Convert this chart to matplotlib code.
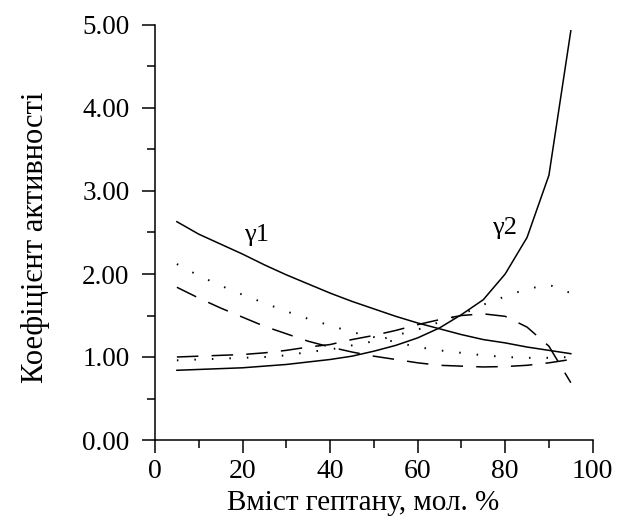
import matplotlib
matplotlib.use("Agg")
import matplotlib.pyplot as plt
from matplotlib.ticker import MultipleLocator, FormatStrFormatter

x = [5, 10, 15, 20, 25, 30, 35, 40, 45, 50, 55, 60, 65, 70, 75, 80, 85, 90, 95]

# model 1 (solid)
g1_solid = [2.63, 2.48, 2.36, 2.24, 2.11, 1.99, 1.88, 1.77, 1.67, 1.58, 1.49, 1.41, 1.34, 1.27, 1.21, 1.17, 1.12, 1.08, 1.04]
g2_solid = [0.84, 0.85, 0.86, 0.87, 0.89, 0.91, 0.94, 0.97, 1.01, 1.07, 1.14, 1.23, 1.35, 1.51, 1.69, 2.00, 2.44, 3.19, 4.93]

# model 2 (dotted)
g1_dot = [2.12, 1.98, 1.86, 1.75, 1.65, 1.55, 1.46, 1.38, 1.30, 1.24, 1.18, 1.12, 1.08, 1.05, 1.02, 1.00, 0.99, 0.99, 1.00]
g2_dot = [0.96, 0.97, 0.98, 0.99, 1.00, 1.02, 1.06, 1.09, 1.14, 1.19, 1.26, 1.33, 1.42, 1.51, 1.63, 1.73, 1.82, 1.87, 1.77]

# model 3 (dashed)
g1_dash = [1.84, 1.71, 1.59, 1.48, 1.37, 1.28, 1.19, 1.12, 1.06, 1.01, 0.97, 0.93, 0.90, 0.89, 0.88, 0.885, 0.90, 0.93, 0.97]
g2_dash = [1.00, 1.01, 1.02, 1.03, 1.05, 1.08, 1.12, 1.15, 1.21, 1.26, 1.32, 1.39, 1.45, 1.50, 1.52, 1.49, 1.36, 1.13, 0.69]

xticks = [0, 20, 40, 60, 80, 100]
yticks = [0, 1, 2, 3, 4, 5]

plt.rcParams['font.family'] = ['Liberation Serif', 'DejaVu Serif']

fig = plt.figure(figsize=(6.18, 5.27), dpi=100)
ax = fig.add_axes([155/618, 87/527, 437.7/618, 415/527])

lw = 1.1
dash = (0, (15.5/lw, 9.5/lw))
dlw = 1.4
dot = (0, (1.1/dlw, 11.5/dlw))

ax.plot(x, g1_solid, color='black', lw=lw, ls='-')
ax.plot(x, g2_solid, color='black', lw=lw, ls='-')
ax.plot(x, g1_dot, color='black', lw=dlw, ls=dot)
ax.plot(x, g2_dot, color='black', lw=dlw, ls=dot)
ax.plot(x, g1_dash, color='black', lw=lw, ls=dash)
ax.plot(x, g2_dash, color='black', lw=lw, ls=dash)

ax.text(23.1, 2.47, 'γ1', fontsize=19, ha='center', va='center')
ax.text(79.9, 2.55, 'γ2', fontsize=19, ha='center', va='center')

ax.set_xlim(0, 100)
ax.set_ylim(0, 5)
ax.set_xticks(xticks)
ax.set_yticks(yticks)
ax.xaxis.set_minor_locator(MultipleLocator(10))
ax.yaxis.set_minor_locator(MultipleLocator(0.5))
ax.yaxis.set_major_formatter(FormatStrFormatter('%.2f'))

for s in ['top', 'right']:
    ax.spines[s].set_visible(False)
for s in ['left', 'bottom']:
    ax.spines[s].set_linewidth(1.1)

ax.tick_params(axis='both', which='major', direction='out', length=9.4, width=1.1)
ax.tick_params(axis='both', which='minor', direction='out', length=5.5, width=1.1)
ax.tick_params(axis='x', which='major', labelsize=20, pad=4)
ax.tick_params(axis='y', which='major', labelsize=19.5, pad=9)

ax.set_xlabel('Вміст гептану, мол. %', fontsize=21)
ax.set_ylabel('Коефіцієнт активності', fontsize=22)
ax.xaxis.set_label_coords(0.475, -0.152)
ax.xaxis.label.set_va('center')
ax.yaxis.set_label_coords(-0.274, 0.488)
ax.yaxis.label.set_va('center')

fig.savefig('out.png', dpi=100)
